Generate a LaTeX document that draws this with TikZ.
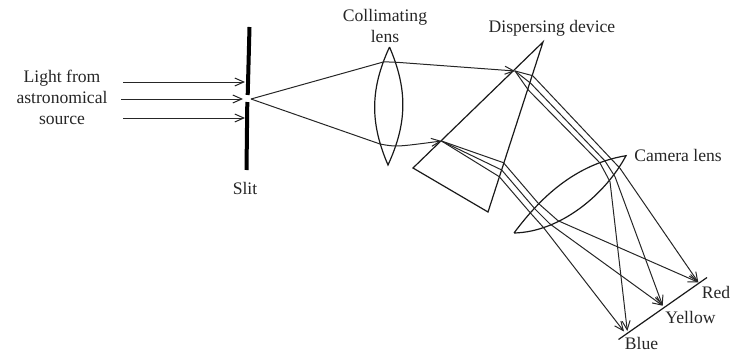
\documentclass[tikz,border=0pt]{standalone}
\usepackage{fontspec}
\setmainfont{Liberation Serif}
\usetikzlibrary{arrows.meta}

\begin{document}
\begin{tikzpicture}[
  x=1pt, y=-1pt,
  every node/.style={font=\fontsize{17.6}{21}\selectfont, text=black!85, inner sep=0pt, align=center},
  ray/.style={line width=1pt, black!85},
  beam/.style={ray, -{Straight Barb[length=9pt,width=8pt]}},
  glass/.style={line width=1.2pt, black!90},
  slitbar/.style={line width=4pt, black}
]
\useasboundingbox (0,0) rectangle (730,353);

% labels
\node (src) at (62,97) {Light from\\astronomical\\source};
\node (sl) at (245,188) {Slit};
\node (cl) at (385,26) {Collimating\\lens};
\node (dd) at (552,28) {Dispersing device};
\node (cam) at (678,155) {Camera lens};
\node (red) at (716,292) {Red};
\node (yel) at (690.5,317) {Yellow};
\node (blu) at (641.5,343) {Blue};

% slit
\coordinate (s1) at (249.5,27);
\coordinate (s2) at (247.7,95);
\coordinate (s3) at (247.3,102);
\coordinate (s4) at (246.5,170);
\draw[slitbar] (s1) -- (s2);
\draw[slitbar] (s3) -- (s4);
\coordinate (o) at (251,99);

% incoming light
\coordinate (i1) at (123,82);  \coordinate (j1) at (245,82);
\coordinate (i2) at (121,99);  \coordinate (j2) at (243,99);
\coordinate (i3) at (123,118); \coordinate (j3) at (245,118);
\foreach \a/\b in {i1/j1, i2/j2, i3/j3}
  \draw[beam] (\a) -- (\b);

% collimating lens
\coordinate (ct) at (389.5,47);
\coordinate (cb) at (388,165);
\draw[glass] (ct) to[bend right=24] (cb) to[bend right=24] (ct);

% prism
\coordinate (pa) at (543,42);
\coordinate (pb) at (413,168);
\coordinate (pc) at (488,212);
\draw[glass] (pa) -- (pb) -- (pc) -- cycle;

% camera lens
\coordinate (ca) at (626,155.7);
\coordinate (cc) at (514,233);
\draw[glass] (cc) .. controls (535,205) and (570,165) .. (ca)
  .. controls (605,195) and (560,232) .. (cc);

% focal plane
\coordinate (fa) at (707,277.5);
\coordinate (fb) at (618.5,339.5);
\draw[glass] (fa) -- (fb);

% to the prism
\coordinate (u1) at (384,61.8);
\coordinate (u2) at (515,71);
\coordinate (l1) at (380,144);
\coordinate (l2) at (441.5,141);
\draw[ray] (o) -- (u1);
\draw[beam] (u1) -- (397,62.3) -- (u2);
\draw[ray] (o) -- (l1);
\draw[beam] (l1) .. controls (396,147) .. (l2);

% upper beam through prism and lens
\coordinate (ur1) at (532.7,75.7);
\coordinate (uy1) at (530.7,83.3);
\coordinate (ub1) at (528.3,90);
\coordinate (ur2) at (611.7,159.5);
\coordinate (uy2) at (605,161);
\coordinate (ub2) at (600,163);
\coordinate (ur3) at (620,168.3);
\coordinate (uy3) at (615,176.7);
\coordinate (ub3) at (610,181.7);
% lower beam through prism and lens
\coordinate (lr1) at (503.5,162.7);
\coordinate (ly1) at (501.7,170);
\coordinate (lb1) at (499.3,176.7);
\coordinate (lr2) at (538,203);
\coordinate (ly2) at (535,209);
\coordinate (lb2) at (530.7,213.3);
\coordinate (lr3) at (558,220.7);
\coordinate (ly3) at (550,224);
\coordinate (lb3) at (543.3,227.3);
% image points
\coordinate (tr) at (698.3,282.3);
\coordinate (ty) at (662.7,305.7);
\coordinate (tb) at (627.3,331);
\coordinate (tc) at (624,331.5);

\foreach \a/\b/\c/\d/\e in {ur1/ur2/ur3/tr/u2, uy1/uy2/uy3/ty/u2, ub1/ub2/ub3/tb/u2,
    lr1/lr2/lr3/tr/l2, ly1/ly2/ly3/ty/l2, lb1/lb2/lb3/tc/l2} {
  \draw[ray] (\e) -- (\a) -- (\b) -- (\c);
  \draw[beam] (\c) -- (\d);
}
\end{tikzpicture}
\end{document}
